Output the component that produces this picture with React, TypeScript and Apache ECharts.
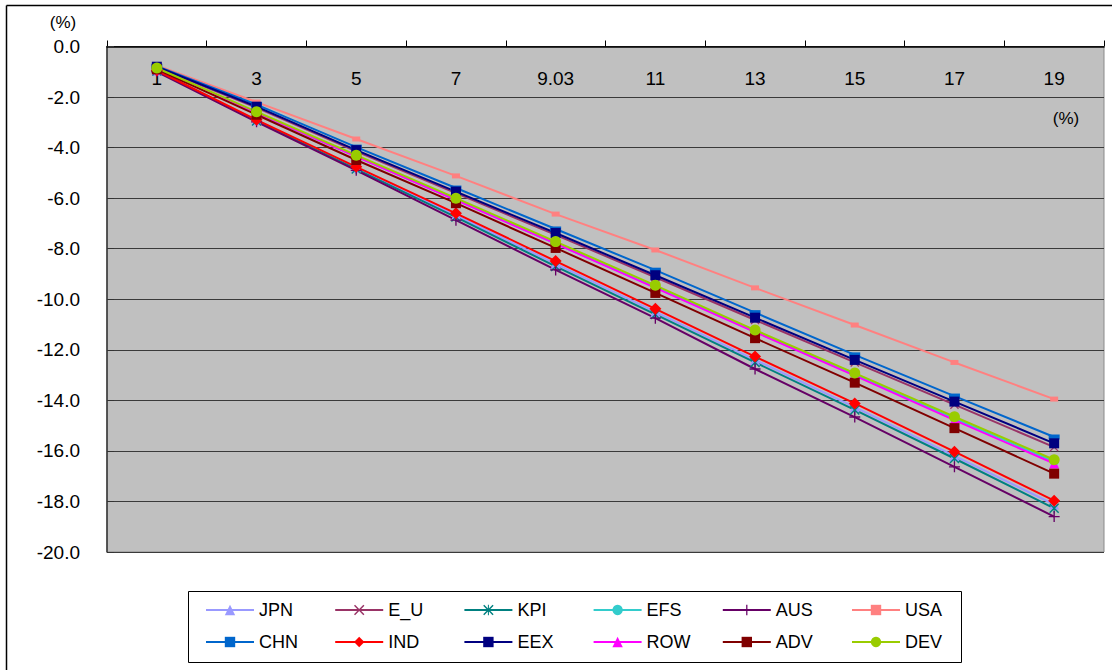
import React, { useEffect, useRef } from "react";
import * as echarts from "echarts";

// Rates on the category axis (%)
const categories = ["1", "3", "5", "7", "9.03", "11", "13", "15", "17", "19"];

// Change by region (%)
const JPN = [-0.96, -2.92, -4.8, -6.68, -8.6, -10.5, -12.4, -14.27, -16.2, -18.12];
const E_U = [-0.82, -2.42, -4.15, -5.8, -7.45, -9.13, -10.82, -12.5, -14.17, -15.85];
const KPI = [-0.97, -2.95, -4.85, -6.75, -8.7, -10.6, -12.5, -14.38, -16.3, -18.27];
const EFS = [-0.88, -2.62, -4.35, -6.06, -7.8, -9.52, -11.28, -12.98, -14.72, -16.42];
const AUS = [-1.0, -2.98, -4.9, -6.87, -8.84, -10.75, -12.76, -14.66, -16.63, -18.6];
const USA = [-0.75, -2.2, -3.66, -5.12, -6.63, -8.05, -9.55, -11.02, -12.5, -13.95];
const CHN = [-0.78, -2.3, -3.98, -5.6, -7.22, -8.85, -10.53, -12.2, -13.83, -15.45];
const IND = [-0.95, -2.9, -4.76, -6.6, -8.49, -10.38, -12.27, -14.12, -16.03, -17.97];
const EEX = [-0.8, -2.38, -4.1, -5.74, -7.38, -9.05, -10.73, -12.4, -14.05, -15.7];
const ROW = [-0.9, -2.62, -4.36, -6.08, -7.8, -9.55, -11.3, -13.02, -14.78, -16.5];
const ADV = [-0.9, -2.7, -4.49, -6.2, -7.97, -9.75, -11.54, -13.3, -15.1, -16.9];
const DEV = [-0.85, -2.58, -4.3, -6.0, -7.72, -9.45, -11.22, -12.92, -14.65, -16.35];

const FONT = "'Liberation Sans', Arial, sans-serif";

const X_MARK = "path://M0,1L1,0L5,4L9,0L10,1L6,5L10,9L9,10L5,6L1,10L0,9L4,5Z";
const PLUS_MARK = "path://M4.4,0H5.6V4.4H10V5.6H5.6V10H4.4V5.6H0V4.4H4.4Z";
const STAR_MARK =
  "path://M0,1L1,0L5,4L9,0L10,1L6,5L10,9L9,10L5,6L1,10L0,9L4,5ZM4.5,0H5.5V10H4.5Z";

type SeriesDef = {
  name: string;
  data: number[];
  color: string;
  symbol: string;
  size: number | number[];
};

const seriesDefs: SeriesDef[] = [
  { name: "JPN", data: JPN, color: "#9999ff", symbol: "triangle", size: 10 },
  { name: "E_U", data: E_U, color: "#993366", symbol: X_MARK, size: 9 },
  { name: "KPI", data: KPI, color: "#008080", symbol: STAR_MARK, size: 10 },
  { name: "EFS", data: EFS, color: "#33cccc", symbol: "circle", size: 9 },
  { name: "AUS", data: AUS, color: "#660066", symbol: PLUS_MARK, size: 11 },
  { name: "USA", data: USA, color: "#ff8080", symbol: "rect", size: [8, 5] },
  { name: "CHN", data: CHN, color: "#0066cc", symbol: "rect", size: [11, 5] },
  { name: "IND", data: IND, color: "#ff0000", symbol: "diamond", size: 12 },
  { name: "EEX", data: EEX, color: "#000080", symbol: "rect", size: 10 },
  { name: "ROW", data: ROW, color: "#ff00ff", symbol: "triangle", size: 10 },
  { name: "ADV", data: ADV, color: "#800000", symbol: "rect", size: 10 },
  { name: "DEV", data: DEV, color: "#99cc00", symbol: "circle", size: 11 },
];

// Legend laid out as six columns of two entries each
const legendColumns = [0, 1, 2, 3, 4, 5].map((i) => [
  seriesDefs[i].name,
  seriesDefs[i + 6].name,
]);

export default function App() {
  const ref = useRef<HTMLDivElement>(null);

  useEffect(() => {
    if (!ref.current) return;
    const chart = echarts.init(ref.current, null, { renderer: "svg" });

    const legends = legendColumns.map((names, i) => ({
      left: 200 + i * 129.2,
      top: 596,
      orient: "vertical" as const,
      itemWidth: 48,
      itemHeight: 13,
      itemGap: 14,
      textStyle: { fontFamily: FONT, fontSize: 18, color: "#000" },
      selectedMode: false,
      data: names,
    }));

    chart.setOption({
      animation: false,
      backgroundColor: "#ffffff",
      textStyle: { fontFamily: FONT },
      grid: {
        left: 107,
        top: 46.5,
        right: 8,
        bottom: 118,
        show: true,
        backgroundColor: "#c0c0c0",
        borderColor: "#8a8a8a",
        borderWidth: 1,
      },
      xAxis: {
        type: "category",
        position: "top",
        data: categories,
        boundaryGap: true,
        axisLine: { show: true, lineStyle: { color: "#000", width: 1.5 } },
        axisTick: { show: true, inside: false, length: 6, lineStyle: { color: "#000" } },
        axisLabel: {
          inside: true,
          margin: 22,
          fontFamily: FONT,
          fontSize: 19,
          color: "#000",
        },
        splitLine: { show: false },
      },
      yAxis: {
        type: "value",
        min: -20,
        max: 0,
        interval: 2,
        axisLine: { show: true, lineStyle: { color: "#333", width: 1.5 } },
        axisTick: { show: true, inside: true, length: 7, lineStyle: { color: "#333" } },
        axisLabel: {
          margin: 27,
          fontFamily: FONT,
          fontSize: 19,
          color: "#000",
          formatter: (v: number) => v.toFixed(1),
        },
        splitLine: { show: true, lineStyle: { color: "#3a3a3a", width: 1 } },
      },
      legend: legends,
      graphic: [
        {
          type: "rect",
          shape: { x: 188.5, y: 591.5, width: 773, height: 71 },
          style: { fill: "#ffffff", stroke: "#000", lineWidth: 1 },
          z: -1,
        },
        {
          type: "line",
          shape: { x1: 6.5, y1: 5.5, x2: 1112, y2: 5.5 },
          style: { stroke: "#000", lineWidth: 1.5 },
        },
        {
          type: "line",
          shape: { x1: 6.5, y1: 5.5, x2: 6.5, y2: 670 },
          style: { stroke: "#000", lineWidth: 1.5 },
        },
        {
          type: "text",
          x: 63,
          y: 22,
          style: {
            text: "(%)",
            fontFamily: FONT,
            fontSize: 17,
            fill: "#000",
            align: "center",
            verticalAlign: "middle",
          },
        },
        {
          type: "text",
          x: 1066,
          y: 118,
          style: {
            text: "(%)",
            fontFamily: FONT,
            fontSize: 17,
            fill: "#000",
            align: "center",
            verticalAlign: "middle",
          },
        },
      ],
      series: seriesDefs.map((s) => ({
        name: s.name,
        type: "line",
        data: s.data,
        symbol: s.symbol,
        symbolSize: s.size,
        showAllSymbol: true,
        color: s.color,
        lineStyle: { color: s.color, width: 2 },
        itemStyle: { color: s.color },
        emphasis: { disabled: true },
      })),
    });

    return () => chart.dispose();
  }, []);

  return (
    <div
      ref={ref}
      style={{ position: "fixed", left: 0, top: 0, width: 1112, height: 670 }}
    />
  );
}
